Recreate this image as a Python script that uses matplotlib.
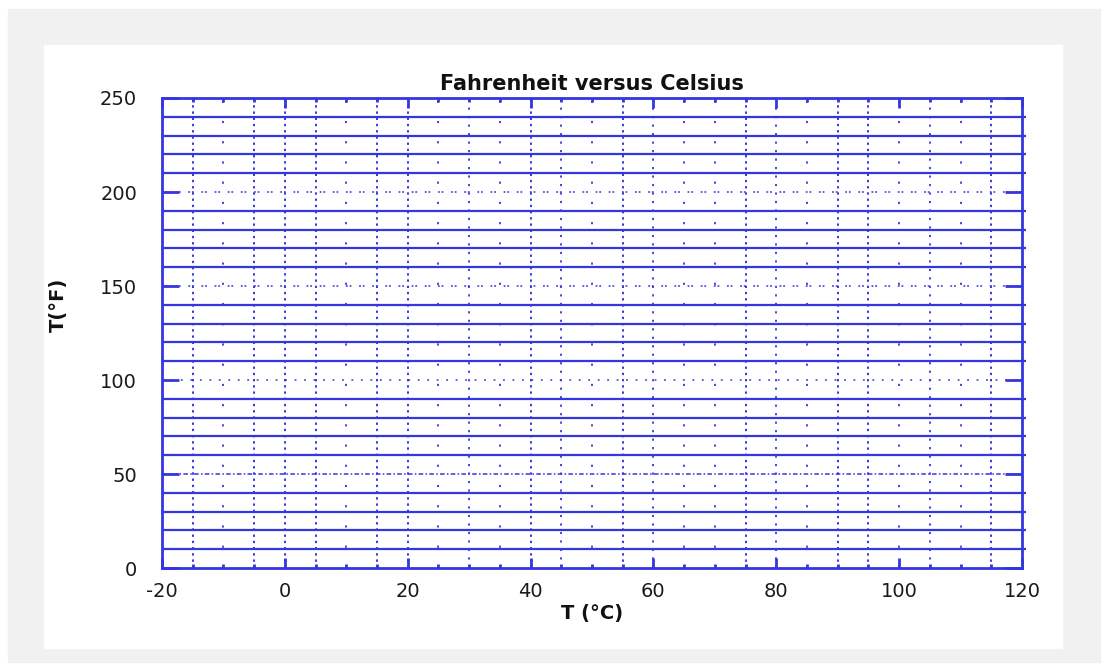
import numpy as np
from matplotlib import pyplot as plt
from matplotlib.patches import Rectangle

plt.rcParams['axes.unicode_minus'] = False

# grid levels
solid_f = [10, 20, 30, 40, 60, 70, 80, 90, 110, 120, 130, 140,
           160, 170, 180, 190, 210, 220, 230, 240]
dotted_f = [50, 100, 150, 200]
dense_c = [-15, -5, 0, 5, 15, 20, 40, 55, 75, 90, 95, 115]
medium_c = [30, 45, 60, 80, 105]
sparse_c = [-10, 10, 25, 35, 50, 65, 70, 85, 100, 110]

x_ticks = [-20, 0, 20, 40, 60, 80, 100, 120]
y_ticks = [0, 50, 100, 150, 200, 250]

blue = '#3636e0'

fig = plt.figure(figsize=(11.07, 6.69), dpi=100)
fig.patches.append(Rectangle((8 / 1107, 1 - 662 / 669), 1092 / 1107, 653 / 669,
                             transform=fig.transFigure, color='#f1f1f1', zorder=-2))
fig.patches.append(Rectangle((44 / 1107, 1 - 648 / 669), 1018 / 1107, 603 / 669,
                             transform=fig.transFigure, color='white', zorder=-1))

ax = fig.add_axes([162 / 1107, 1 - 568 / 669, 860 / 1107, 470 / 669])
ax.set_xlim(-20, 120)
ax.set_ylim(0, 250)

# horizontal solid lines
ax.hlines(solid_f, -20, 120.6, colors=blue, linewidth=1.6, clip_on=False)

# horizontal dotted lines at the major ticks
dot_styles = {50: (0, (3, 1.5, 1, 1.5)), 100: (0, (1.2, 5)),
              150: (0, (1.2, 1.2, 1.2, 5)), 200: (0, (1.2, 1.2, 1.2, 5))}
for f in dotted_f:
    ax.axhline(f, color=blue, linewidth=1.1, linestyle=dot_styles[f])

# vertical dotted lines
for c in dense_c:
    ax.axvline(c, color=blue, linewidth=1.4, linestyle=(0, (1.2, 2.0)))
for c in medium_c:
    ax.axvline(c, color=blue, linewidth=1.3, linestyle=(0, (1.2, 3.5)))
for c in sparse_c:
    ax.axvline(c, color=blue, linewidth=1.3, linestyle=(0, (1.2, 10)))

for s in ax.spines.values():
    s.set_color(blue)
    s.set_linewidth(2)

ax.set_xticks(x_ticks)
ax.set_xticks(np.arange(-20, 121, 5), minor=True)
ax.set_yticks(y_ticks)
ax.set_yticks([], minor=True)
ax.tick_params(axis='both', which='both', direction='in', color=blue,
               top=True, right=True, labelcolor='#1a1a1a', labelsize=14)
ax.tick_params(axis='x', which='major', length=7, width=2, pad=10)
ax.tick_params(axis='x', which='minor', length=3, width=2)
ax.tick_params(axis='y', which='major', length=12, width=2, pad=18)

ax.set_title('Fahrenheit versus Celsius', fontsize=15, fontweight='bold',
             color='#111111', pad=6)
ax.set_xlabel('T (°C)', fontsize=14, fontweight='bold', color='#111111', labelpad=2)
ax.set_ylabel('T(°F)', fontsize=14, fontweight='bold', color='#111111')
ax.yaxis.set_label_coords(-0.11, 0.56)

fig.savefig('out.png', dpi=100)
